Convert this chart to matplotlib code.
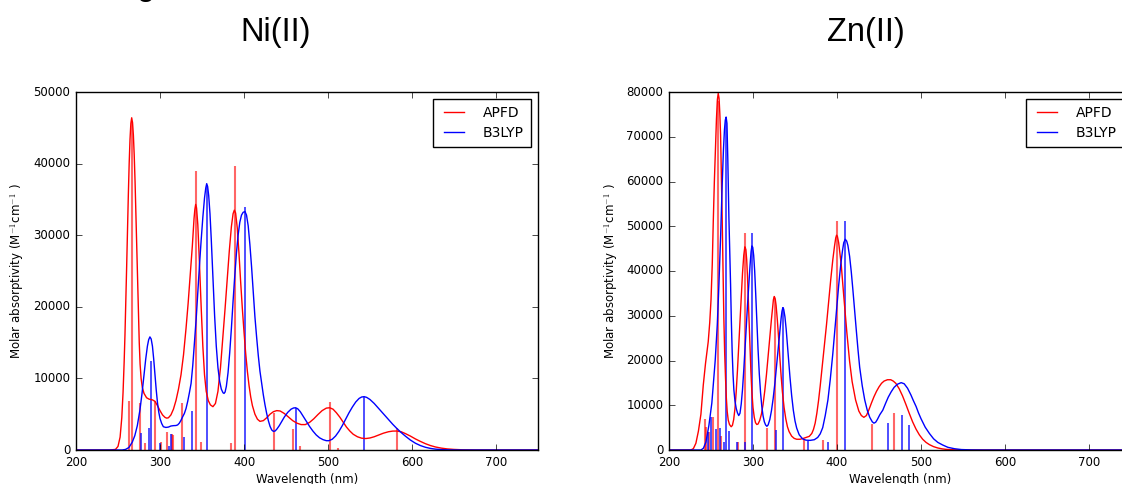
import numpy as np
import matplotlib
matplotlib.use("Agg")
import matplotlib.pyplot as plt

plt.style.use("classic")

# ---------------- Ni(II) ----------------
# broadened spectra (wavelength nm, molar absorptivity)
ni_apfd_wl = [200, 240, 247, 250, 252.5, 254.5, 256, 257.3, 258.3, 259.3, 260.3, 261.3, 262.3, 263.3, 264.3,
              265.3, 266.3, 267.3, 268.3, 269.3, 270.3, 271.3, 272.3, 273.3, 274.3, 275.3, 276.3, 277.5, 279,
              281, 284, 287, 291, 294, 297, 300, 303, 306, 308, 310, 313, 316, 319, 322, 325, 328, 331,
              333.5, 336, 338.5, 340.5, 341.5, 342.5, 343.5, 345, 347, 349, 351, 353, 355, 357.5, 360, 363,
              366, 369, 372, 375, 377.5, 380, 382.5, 385, 387, 388.5, 390, 392, 394, 396, 398, 400, 402,
              404, 406, 408, 410, 413, 416, 419, 423, 427, 431, 435, 439, 443, 448, 453, 458, 463, 468,
              473, 478, 483, 488, 493, 498, 502, 506, 510, 514, 518, 522, 526, 530, 535, 540, 545, 550,
              555, 560, 566, 572, 577, 582, 587, 592, 598, 604, 610, 616, 622, 628, 635, 642, 650, 660,
              675, 690, 750]
ni_apfd_val = [0, 0, 80, 500, 1800, 4500, 8000, 12200, 16100, 20600, 25600, 30700, 35600, 40000, 43400,
               45600, 46400, 45700, 44000, 41200, 37500, 33000, 28200, 23500, 19000, 15000, 12000, 10000, 8700,
               7900, 7300, 7100, 7000, 6800, 6200, 5500, 4900, 4550, 4450, 4500, 4900, 5700, 6900, 8500, 10500, 13300, 17000,
               20500, 24500, 28500, 32300, 33600, 34300, 33800, 31500, 26000, 20000, 14500, 10500, 8200, 6900, 6300, 6050,
               6500, 8200, 11500, 16000, 19800, 23800, 27800, 31200, 33000, 33500, 33100, 31000, 27500, 23500, 19800, 16500, 13500,
               11000, 9000, 7400, 6200, 5000, 4300, 4000, 4100, 4500, 5000, 5350, 5500, 5450, 5100, 4600, 4100, 3750, 3550,
               3550, 3850, 4350, 4950, 5500, 5850, 5900, 5700, 5200, 4600, 3900, 3200, 2650, 2200, 1850, 1650, 1600, 1680,
               1850, 2080, 2350, 2550, 2640, 2650, 2550, 2300, 1950, 1550, 1200, 880, 620, 420, 260, 150, 80, 30,
               5, 0, 0]

ni_b3lyp_wl = [200, 255, 259, 263, 267, 270, 273, 276, 278.5, 281, 283, 285, 286.5, 288, 289.5, 291, 292.5,
               294, 295.5, 297, 298.5, 300, 302, 304, 307, 310, 313, 316, 319, 321, 323, 325, 327, 329, 331,
               333, 335, 337, 339, 341, 343, 345, 347, 349, 351, 353, 354.5, 355.6, 356.7, 358, 359.5, 361,
               363, 365, 367, 369, 371, 373, 375, 376.2, 377.5, 379, 381, 383, 385, 387, 389, 391, 393, 395,
               397, 399, 401.2, 403, 405, 407, 409, 411, 413, 415, 417, 419, 421, 423, 425, 427, 429, 431,
               433, 435, 437, 439, 442, 445, 448, 452, 456, 459, 461.5, 464, 467, 470, 474, 478, 482, 486,
               490, 494, 498, 501, 505, 509, 513, 517, 521, 525, 529, 533, 537, 540, 543, 546, 550, 555,
               560, 566, 572, 577, 582, 587, 592, 598, 604, 610, 616, 622, 628, 636, 645, 660, 750]
ni_b3lyp_val = [0, 0, 80, 350, 1100, 2000, 3400, 5500, 7800, 10500, 12700, 14500, 15400, 15800, 15500, 14500, 12700,
                10500, 8400, 6600, 5300, 4400, 3700, 3250, 3150, 3200, 3350, 3400, 3420, 3500, 3750, 4150, 4650, 5100, 5800,
                6800, 8000, 9300, 11800, 15000, 18200, 22000, 25800, 29300, 32500, 35200, 36600, 37200, 36800, 35500, 33000, 29500,
                24000, 18800, 14500, 11500, 9600, 8500, 8000, 7900, 8100, 8900, 10800, 13600, 17000, 20800, 24300, 27500, 30000, 31800,
                32800, 33200, 33300, 32800, 31300, 28700, 25600, 22000, 18600, 15800, 13200, 11000, 9300, 7700, 6300, 5100, 4100, 3300,
                2800, 2600, 2650, 2900, 3400, 4000, 4600, 5250, 5700, 5870, 5900, 5750, 5350, 4800, 4050, 3300, 2650, 2100,
                1700, 1450, 1300, 1300, 1500, 1950, 2600, 3400, 4300, 5200, 6000, 6700, 7200, 7400, 7450, 7350, 7050, 6500,
                5850, 5050, 4250, 3600, 3000, 2450, 1950, 1400, 950, 620, 380, 220, 120, 50, 15, 0, 0]

# oscillator sticks
ni_apfd_stick_wl = [263.5, 266.3, 276.4, 282.5, 294, 300.8, 308, 313.9, 315.9, 326, 342.9, 349.2, 384, 389,
                    435.7, 458.3, 466.7, 502.8, 512, 581.8]
ni_apfd_stick_val = [6800, 46000, 6500, 930, 6900, 1070, 2470, 2230, 2100, 6500, 39000, 1100, 930, 39600,
                     5200, 3000, 500, 6700, 300, 3100]
ni_b3lyp_stick_wl = [277, 286.5, 289.7, 300.4, 310.7, 313.5, 329, 338.5, 356, 401.6, 461.5, 543.2]
ni_b3lyp_stick_val = [2400, 3030, 12400, 980, 510, 2190, 1750, 5450, 37000, 34000, 5900, 7450]

# ---------------- Zn(II) ----------------
zn_apfd_wl = [200, 226, 229, 232, 235, 238, 240.8, 243.5, 246.7, 248.5, 250, 251.5, 252.7, 254, 255.4, 256.5,
              257.6, 258.6, 259.6, 260.5, 261.4, 262.3, 263.3, 264.3, 265.3, 266.3, 267.3, 268.3, 269.3, 270.5,
              272, 274, 275.5, 277, 278.5, 280, 281.5, 283, 284.5, 286, 287.5, 289, 290.3, 291.5, 292.5, 293.5,
              294.5, 295.5, 296.5, 297.5, 298.5, 300, 301.5, 303, 304.5, 306, 308, 310, 312, 314, 316, 318, 320,
              322, 324.3, 325.3, 326.3, 327.5, 329, 330.5, 332, 333.5, 335, 337, 339, 341, 343, 346, 349, 352,
              356, 360, 364, 367, 370, 372, 374, 376, 378, 380, 382.5, 385, 387.5, 390, 392.5, 395, 397, 398.5,
              399.5, 400.5, 402, 405, 408, 411.8, 415, 418, 422.1, 426, 429, 432, 435, 438, 441, 444, 447, 450,
              453, 456, 460, 464, 467, 470, 474, 478, 482, 486, 490, 494, 498, 502, 506, 510, 515,
              520, 525, 530, 540, 555, 750]
zn_apfd_val = [0, 0, 300, 1500, 4200, 8000, 14500, 19400, 24200, 28500, 33500, 41500, 51000, 60000, 68000, 74000,
               78300, 79700, 78600, 75200, 70400, 62000, 51800, 40500, 29400, 21500, 16000, 11500, 8600, 6700,
               5700, 5200, 5500, 6800, 9200, 13000, 17800, 23300, 29000, 34500, 39500, 43500, 45400, 44800, 42500, 38500,
               33500, 28000, 22500, 17500, 13500, 9500, 7300, 6100, 5700, 5800, 6600, 8000, 10200, 13200, 16800, 21000, 25300,
               29300, 33600, 34300, 33900, 32300, 29000, 25000, 20500, 16500, 13000, 9500, 7000, 5200, 4100, 3100, 2600, 2400,
               2400, 2600, 2850, 3050, 3700, 4600, 6000, 8200, 11000, 14300, 18800, 23300, 28000, 33000, 38000, 42500, 45500, 47400,
               48000, 47700, 46300, 41500, 34500, 26100, 19800, 15300, 11200, 8700, 7700, 7300, 7700, 9000, 10500, 11900, 13100, 14100,
               14900, 15400, 15700, 15700, 15400, 14900, 13700, 12100, 10200, 8200, 6300, 4700, 3400, 2400, 1700, 1200, 750,
               450, 260, 140, 40, 0, 0]

zn_b3lyp_wl = [200, 238, 241, 244, 247.5, 251, 255, 257.5, 259.4, 261.5, 263.3, 264.8, 266, 267, 268, 269, 270,
               271.3, 272.3, 273.3, 274.2, 275.2, 276.2, 277.2, 278.5, 280, 281.5, 283, 284.5, 286, 287.5, 289,
               290.5, 292, 293.5, 295, 296.5, 297.7, 298.7, 299.7, 300.8, 302, 303.2, 304.5, 306, 307.5, 309,
               310.5, 312, 313.5, 315, 316.5, 318, 320, 322, 324, 326, 328, 330, 332, 333.5, 334.5, 335.5, 336.5,
               338, 339.5, 341, 342.5, 344, 346, 348, 350, 352, 355, 359, 363, 368, 373, 377, 380, 383, 386,
               389.2, 392, 395, 397.1, 399.5, 402, 404.5, 406.5, 408, 409.8, 411.5, 413, 415, 417, 419, 421,
               423, 425, 427, 430, 433, 436, 439, 442, 444, 446, 448, 451, 454.5, 458, 461, 464.5, 468,
               472, 476.4, 480, 484, 488, 491, 494.2, 497, 500, 505, 510, 515, 520, 525.8, 532, 540, 548, 560,
               575, 750]
zn_b3lyp_val = [0, 0, 400, 1800, 5500, 10500, 20000, 28000, 36900, 48000, 59200, 67000, 71500, 73700, 74400, 73000, 65000,
                52000, 44500, 37000, 29000, 22000, 17000, 13500, 11000, 9300, 8300, 7700, 8200, 10300, 13500, 17800,
                22500, 27500, 32500, 37000, 41300, 44300, 45600, 45300, 43500, 40000, 35000, 29000, 22500, 17000, 12800,
                9700, 7600, 6300, 5600, 5300, 5600, 6800, 8800, 11500, 14800, 18700, 22800, 26700, 29500, 31000, 31800, 31500,
                29800, 27000, 23500, 19800, 16300, 12200, 8900, 6500, 4900, 3400, 2500, 2200, 2150, 2300, 2800, 3600, 5000, 7700,
                11200, 15800, 21500, 26100, 31500, 36800, 41500, 44500, 46300, 47100, 46700, 45700, 43300, 39800, 35600, 31000,
                26700, 22400, 18500, 14400, 11200, 8900, 7300, 6300, 6000, 6200, 6800, 7900, 8900, 10500, 11800, 13000, 14000,
                14700, 15050, 14800, 13800, 12300, 11000, 9700, 8300, 7000, 5100, 3700, 2500, 1700, 1120, 600, 280, 100, 20,
                0, 0]

zn_apfd_stick_wl = [242.5, 244.5, 247.2, 252.5, 258.6, 262, 282, 290.5, 316.2, 326.1, 360.3, 383, 400.3, 442, 467.6]
zn_apfd_stick_val = [7000, 5200, 4100, 7300, 78000, 3100, 1860, 48600, 4900, 33800, 2380, 2200, 51200, 5900, 8200]
zn_b3lyp_stick_wl = [246.7, 250.3, 255.5, 260.5, 265.3, 268.2, 272, 281.5, 290, 298.7, 327, 336, 365.5, 388.8,
                     409.8, 461.3, 477.1, 486.2]
zn_b3lyp_stick_val = [4100, 7450, 4800, 4840, 1860, 74000, 4200, 1860, 1860, 48600, 4500, 32000, 2000, 1860,
                      51200, 5960, 7900, 5500]

W, H = 1122, 484
fig = plt.figure(figsize=(W / 100, H / 100), dpi=100, facecolor="white")


def panel(left_px, ymax, apfd, b3lyp, sticks_a, sticks_b):
    ax = fig.add_axes([left_px / W, 34 / H, 462 / W, 358 / H])
    ax.vlines(sticks_a[0], 0, sticks_a[1], color="red", alpha=0.6, lw=1.5)
    ax.vlines(sticks_b[0], 0, sticks_b[1], color="blue", alpha=0.75, lw=1.3)
    ax.plot(apfd[0], apfd[1], color="red", lw=1.0, label="APFD")
    ax.plot(b3lyp[0], b3lyp[1], color="blue", lw=1.0, label="B3LYP")
    ax.set_xlim(200, 750)
    ax.set_ylim(0, ymax)
    ax.set_xticks(range(200, 701, 100))
    ax.set_yticks(range(0, ymax + 1, 10000))
    ax.tick_params(labelsize=8.5, direction="in", top=True, right=True, length=4)
    ax.set_xlabel("Wavelength (nm)", fontsize=8.5, labelpad=3)
    ax.set_ylabel("Molar absorptivity (M$^{-1}$cm$^{-1}$ )", fontsize=8.5)
    leg = ax.legend(loc="upper right", fontsize=10, fancybox=False, frameon=True,
                    handlelength=2.0, handletextpad=1.1, borderpad=0.5, labelspacing=0.45)
    leg.get_frame().set_edgecolor("black")
    return ax


panel(76, 50000, (ni_apfd_wl, ni_apfd_val), (ni_b3lyp_wl, ni_b3lyp_val),
      (ni_apfd_stick_wl, ni_apfd_stick_val), (ni_b3lyp_stick_wl, ni_b3lyp_stick_val))
panel(669, 80000, (zn_apfd_wl, zn_apfd_val), (zn_b3lyp_wl, zn_b3lyp_val),
      (zn_apfd_stick_wl, zn_apfd_stick_val), (zn_b3lyp_stick_wl, zn_b3lyp_stick_val))

fig.text(276 / W, 1 - 41 / H, "Ni(II)", ha="center", va="baseline", fontsize=23.5, family="Liberation Sans")
fig.text(866 / W, 1 - 41 / H, "Zn(II)", ha="center", va="baseline", fontsize=23.5, family="Liberation Sans")
# descender of a heading line cut off above the picture
fig.text(146 / W, 1 + 5 / H, "g", ha="center", va="baseline", fontsize=23.5, family="Liberation Sans")

fig.savefig("out.png", dpi=100, facecolor="white")
